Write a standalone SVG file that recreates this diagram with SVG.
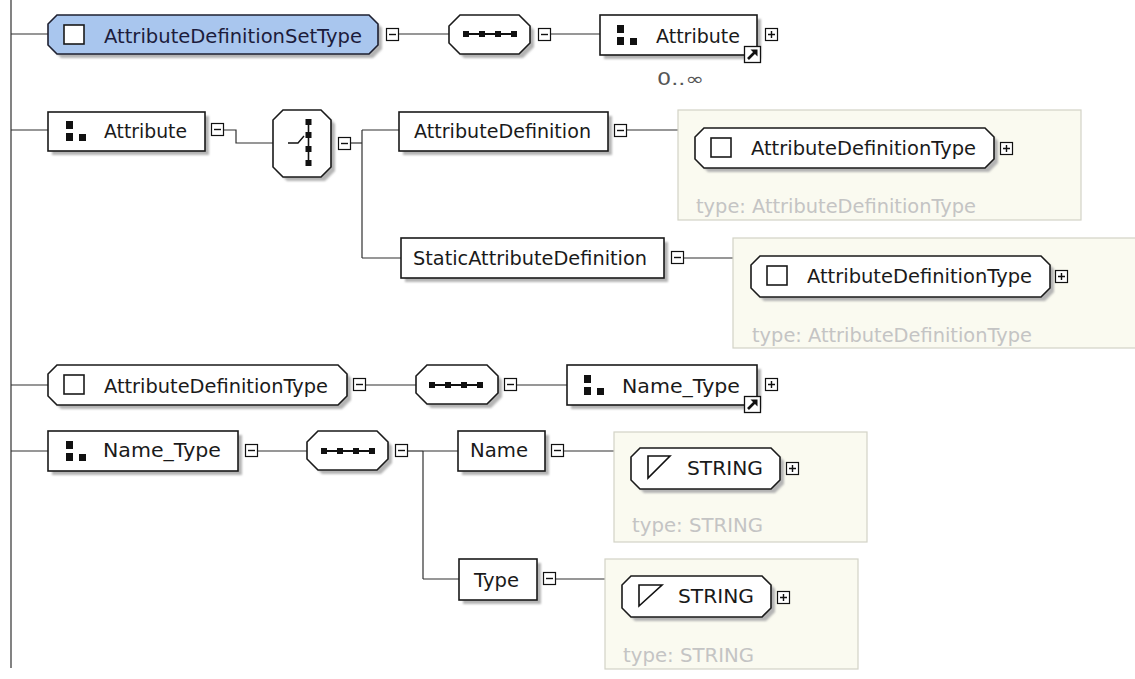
<svg xmlns="http://www.w3.org/2000/svg" xmlns:xlink="http://www.w3.org/1999/xlink" width="1135" height="679" viewBox="0 0 1135 679">
  <style>
    .bg { fill: #ffffff; }
    .wire { fill: none; stroke: #303030; stroke-width: 1.2; }
    .box { fill: #ffffff; stroke: #1a1a1a; stroke-width: 1.6; }
    .ctype { fill: #ffffff; stroke: #1a1a1a; stroke-width: 1.6; }
    .root { fill: #a9c6ee; stroke: #1e2030; stroke-width: 1.6; }
    .shadow { fill: #b4b4b4; filter: url(#soft); }
    .panel { fill: #fafaf0; stroke: #d2d2c6; stroke-width: 1.2; }
    .ink { fill: #111111; }
    .icon { fill: #ffffff; stroke: #1a1a1a; stroke-width: 1.6; }
    .label { font-family: "DejaVu Sans", Verdana, sans-serif; font-size: 19px; fill: #1a1a1a; }
    .rootlabel { fill: #1c1c3c; }
    .typelabel { font-family: "DejaVu Sans", Verdana, sans-serif; font-size: 19px; fill: #c4c4c4; }
    .occurs { font-family: "DejaVu Sans", Verdana, sans-serif; font-size: 17px; fill: #555555; }
  </style>
  <defs>
    <filter id="soft" x="-10%" y="-10%" width="120%" height="130%">
      <feGaussianBlur stdDeviation="1"/>
    </filter>
    <g id="minus">
      <rect x="0.5" y="0.5" width="12" height="12" fill="#ffffff" stroke="#111" stroke-width="1.2"/>
      <path d="M3,6.5 H10" stroke="#111" stroke-width="1.4"/>
    </g>
    <g id="plus">
      <rect x="0.5" y="0.5" width="12" height="12" fill="#ffffff" stroke="#111" stroke-width="1.2"/>
      <path d="M3,6.5 H10 M6.5,3 V10" stroke="#111" stroke-width="1.4"/>
    </g>
    <g id="ref">
      <rect x="0.5" y="0.5" width="16" height="16" fill="#ffffff" stroke="#111" stroke-width="1.3"/>
      <path d="M4,13 L10.5,6.5" stroke="#111" stroke-width="2.6"/>
      <path d="M6.5,3.5 H13.5 V10.5 Z" fill="#111"/>
    </g>
    <g id="elemicon">
      <rect x="0" y="0" width="7" height="8"/>
      <rect x="0" y="12" width="7" height="8"/>
      <rect x="13" y="13" width="7" height="7"/>
    </g>
  </defs>

  <rect class="bg" x="0" y="0" width="1135" height="679"/>

  <!-- connectors -->
  <g id="connectors" class="wire">
    <path d="M11,0 V668"/>
    <path d="M11,34 H48"/>
    <path d="M399,34 H449"/>
    <path d="M551,34 H600"/>
    <path d="M11,130 H48"/>
    <path d="M224,130 H236 V143 H273"/>
    <path d="M351,143 H362"/>
    <path d="M362,130 V258"/>
    <path d="M362,130 H399"/>
    <path d="M362,258 H401"/>
    <path d="M627,130 H678"/>
    <path d="M684,258 H733"/>
    <path d="M11,385 H48"/>
    <path d="M366,385 H416"/>
    <path d="M517,385 H567"/>
    <path d="M11,451 H48"/>
    <path d="M258,451 H307"/>
    <path d="M408,451 H423"/>
    <path d="M423,451 V579"/>
    <path d="M423,451 H458"/>
    <path d="M423,579 H459"/>
    <path d="M564,451 H614"/>
    <path d="M556,579 H605"/>
  </g>

  <!-- AttributeDefinitionSetType complex type -->
  <g id="node-AttributeDefinitionSetType">
    <path class="shadow" transform="translate(4,4)" d="M57,15 H369 L378,24 V45 L369,54 H57 L48,45 V24 Z"/>
    <path class="root" d="M57,15 H369 L378,24 V45 L369,54 H57 L48,45 V24 Z"/>
    <rect class="icon" x="64" y="25" width="20" height="19"/>
    <text class="label rootlabel" x="104" y="43" textLength="258" lengthAdjust="spacingAndGlyphs">AttributeDefinitionSetType</text>
    <use href="#minus" x="386" y="28"/>
  </g>

  <g id="node-seq1">
    <path class="shadow" transform="translate(4,4)" d="M460,15 H519 L530,26 V43 L519,54 H460 L449,43 V26 Z"/>
    <path class="box" d="M460,15 H519 L530,26 V43 L519,54 H460 L449,43 V26 Z"/>
    <path d="M463,34 H517" stroke="#111" stroke-width="2"/>
    <g class="ink">
      <rect x="463" y="31" width="6" height="6"/>
      <rect x="479" y="31" width="6" height="6"/>
      <rect x="495" y="31" width="6" height="6"/>
      <rect x="511" y="31" width="6" height="6"/>
    </g>
    <use href="#minus" x="538" y="28"/>
  </g>

  <g id="node-Attribute-ref">
    <rect class="shadow" x="604" y="19" width="157" height="40"/>
    <rect class="box" x="600" y="15" width="157" height="40"/>
    <use href="#elemicon" x="617" y="25" class="ink"/>
    <text class="label" x="656" y="43" textLength="84" lengthAdjust="spacingAndGlyphs">Attribute</text>
    <use href="#ref" x="744" y="46"/>
    <use href="#plus" x="765" y="28"/>
    <text class="occurs" x="657" y="85" textLength="47" lengthAdjust="spacingAndGlyphs">0..∞</text>
  </g>

  <!-- Attribute element with choice -->
  <g id="node-Attribute">
    <rect class="shadow" x="52" y="116" width="157" height="39"/>
    <rect class="box" x="48" y="112" width="157" height="39"/>
    <use href="#elemicon" x="66" y="121" class="ink"/>
    <text class="label" x="104" y="138" textLength="83" lengthAdjust="spacingAndGlyphs">Attribute</text>
    <use href="#minus" x="211" y="123"/>
  </g>

  <g id="node-choice">
    <path class="shadow" transform="translate(4,4)" d="M283,110 H321 L331,120 V167 L321,177 H283 L273,167 V120 Z"/>
    <path class="box" d="M283,110 H321 L331,120 V167 L321,177 H283 L273,167 V120 Z"/>
    <path d="M308.5,121 V164" stroke="#111" stroke-width="1.6"/>
    <g class="ink">
      <rect x="305.5" y="119" width="6" height="6"/>
      <rect x="305.5" y="132" width="6" height="6"/>
      <rect x="305.5" y="146" width="6" height="6"/>
      <rect x="305.5" y="160" width="6" height="6"/>
    </g>
    <path d="M288,143 H298 L304,136" fill="none" stroke="#111" stroke-width="1.4"/>
    <use href="#minus" x="338" y="137"/>
  </g>

  <g id="node-AttributeDefinition">
    <rect class="shadow" x="403" y="116" width="209" height="39"/>
    <rect class="box" x="399" y="112" width="209" height="39"/>
    <text class="label" x="414" y="138" textLength="177" lengthAdjust="spacingAndGlyphs">AttributeDefinition</text>
    <use href="#minus" x="614" y="124"/>
  </g>

  <g id="node-AttributeDefinition-type">
    <rect class="panel" x="678" y="110" width="403" height="110"/>
    <path class="shadow" transform="translate(4,4)" d="M704,128 H985 L994,137 V159 L985,168 H704 L695,159 V137 Z"/>
    <path class="ctype" d="M704,128 H985 L994,137 V159 L985,168 H704 L695,159 V137 Z"/>
    <rect class="icon" x="711" y="138" width="20" height="19"/>
    <text class="label" x="751" y="155" textLength="225" lengthAdjust="spacingAndGlyphs">AttributeDefinitionType</text>
    <use href="#plus" x="1000" y="142"/>
    <text class="typelabel" x="696" y="213" textLength="280" lengthAdjust="spacingAndGlyphs">type: AttributeDefinitionType</text>
  </g>

  <g id="node-StaticAttributeDefinition">
    <rect class="shadow" x="405" y="242" width="263" height="40"/>
    <rect class="box" x="401" y="238" width="263" height="40"/>
    <text class="label" x="413" y="265" textLength="234" lengthAdjust="spacingAndGlyphs">StaticAttributeDefinition</text>
    <use href="#minus" x="671" y="251"/>
  </g>

  <g id="node-StaticAttributeDefinition-type">
    <rect class="panel" x="733" y="238" width="403" height="110"/>
    <path class="shadow" transform="translate(4,4)" d="M760,256 H1041 L1050,265 V288 L1041,297 H760 L751,288 V265 Z"/>
    <path class="ctype" d="M760,256 H1041 L1050,265 V288 L1041,297 H760 L751,288 V265 Z"/>
    <rect class="icon" x="767" y="266" width="20" height="19"/>
    <text class="label" x="807" y="283" textLength="225" lengthAdjust="spacingAndGlyphs">AttributeDefinitionType</text>
    <use href="#plus" x="1055" y="270"/>
    <text class="typelabel" x="752" y="342" textLength="280" lengthAdjust="spacingAndGlyphs">type: AttributeDefinitionType</text>
  </g>

  <!-- AttributeDefinitionType complex type -->
  <g id="node-AttributeDefinitionType">
    <path class="shadow" transform="translate(4,4)" d="M57,365 H338 L347,374 V396 L338,405 H57 L48,396 V374 Z"/>
    <path class="ctype" d="M57,365 H338 L347,374 V396 L338,405 H57 L48,396 V374 Z"/>
    <rect class="icon" x="64" y="375" width="20" height="19"/>
    <text class="label" x="104" y="393" textLength="224" lengthAdjust="spacingAndGlyphs">AttributeDefinitionType</text>
    <use href="#minus" x="353" y="378"/>
  </g>

  <g id="node-seq2">
    <path class="shadow" transform="translate(4,4)" d="M427,365 H487 L498,376 V393 L487,404 H427 L416,393 V376 Z"/>
    <path class="box" d="M427,365 H487 L498,376 V393 L487,404 H427 L416,393 V376 Z"/>
    <path d="M429,385 H483" stroke="#111" stroke-width="2"/>
    <g class="ink">
      <rect x="429" y="382" width="6" height="6"/>
      <rect x="445" y="382" width="6" height="6"/>
      <rect x="461" y="382" width="6" height="6"/>
      <rect x="477" y="382" width="6" height="6"/>
    </g>
    <use href="#minus" x="504" y="378"/>
  </g>

  <g id="node-Name_Type-ref">
    <rect class="shadow" x="571" y="369" width="190" height="40"/>
    <rect class="box" x="567" y="365" width="190" height="40"/>
    <use href="#elemicon" x="584" y="375" class="ink"/>
    <text class="label" x="622" y="393" textLength="118" lengthAdjust="spacingAndGlyphs">Name_Type</text>
    <use href="#ref" x="744" y="396"/>
    <use href="#plus" x="765" y="378"/>
  </g>

  <!-- Name_Type element -->
  <g id="node-Name_Type">
    <rect class="shadow" x="52" y="435" width="190" height="40"/>
    <rect class="box" x="48" y="431" width="190" height="40"/>
    <use href="#elemicon" x="66" y="441" class="ink"/>
    <text class="label" x="103" y="457" textLength="118" lengthAdjust="spacingAndGlyphs">Name_Type</text>
    <use href="#minus" x="245" y="444"/>
  </g>

  <g id="node-seq3">
    <path class="shadow" transform="translate(4,4)" d="M318,431 H377 L388,442 V459 L377,470 H318 L307,459 V442 Z"/>
    <path class="box" d="M318,431 H377 L388,442 V459 L377,470 H318 L307,459 V442 Z"/>
    <path d="M321,451 H375" stroke="#111" stroke-width="2"/>
    <g class="ink">
      <rect x="321" y="448" width="6" height="6"/>
      <rect x="337" y="448" width="6" height="6"/>
      <rect x="353" y="448" width="6" height="6"/>
      <rect x="369" y="448" width="6" height="6"/>
    </g>
    <use href="#minus" x="395" y="444"/>
  </g>

  <g id="node-Name">
    <rect class="shadow" x="462" y="435" width="87" height="40"/>
    <rect class="box" x="458" y="431" width="87" height="40"/>
    <text class="label" x="470" y="457" textLength="58" lengthAdjust="spacingAndGlyphs">Name</text>
    <use href="#minus" x="551" y="444"/>
  </g>

  <g id="node-Name-type">
    <rect class="panel" x="614" y="432" width="253" height="110"/>
    <path class="shadow" transform="translate(4,4)" d="M640,448 H771 L780,457 V480 L771,489 H640 L631,480 V457 Z"/>
    <path class="ctype" d="M640,448 H771 L780,457 V480 L771,489 H640 L631,480 V457 Z"/>
    <path d="M648,456 H670 L648,478 Z" fill="none" stroke="#111" stroke-width="1.6"/>
    <text class="label" x="687" y="475" textLength="76" lengthAdjust="spacingAndGlyphs">STRING</text>
    <use href="#plus" x="786" y="462"/>
    <text class="typelabel" x="632" y="532" textLength="131" lengthAdjust="spacingAndGlyphs">type: STRING</text>
  </g>

  <g id="node-Type">
    <rect class="shadow" x="463" y="563" width="78" height="41"/>
    <rect class="box" x="459" y="559" width="78" height="41"/>
    <text class="label" x="474" y="587" textLength="45" lengthAdjust="spacingAndGlyphs">Type</text>
    <use href="#minus" x="543" y="572"/>
  </g>

  <g id="node-Type-type">
    <rect class="panel" x="605" y="559" width="253" height="110"/>
    <path class="shadow" transform="translate(4,4)" d="M631,576 H762 L771,585 V608 L762,617 H631 L622,608 V585 Z"/>
    <path class="ctype" d="M631,576 H762 L771,585 V608 L762,617 H631 L622,608 V585 Z"/>
    <path d="M639,585 H662 L639,606 Z" fill="none" stroke="#111" stroke-width="1.6"/>
    <text class="label" x="678" y="603" textLength="76" lengthAdjust="spacingAndGlyphs">STRING</text>
    <use href="#plus" x="777" y="591"/>
    <text class="typelabel" x="623" y="662" textLength="131" lengthAdjust="spacingAndGlyphs">type: STRING</text>
  </g>
</svg>
